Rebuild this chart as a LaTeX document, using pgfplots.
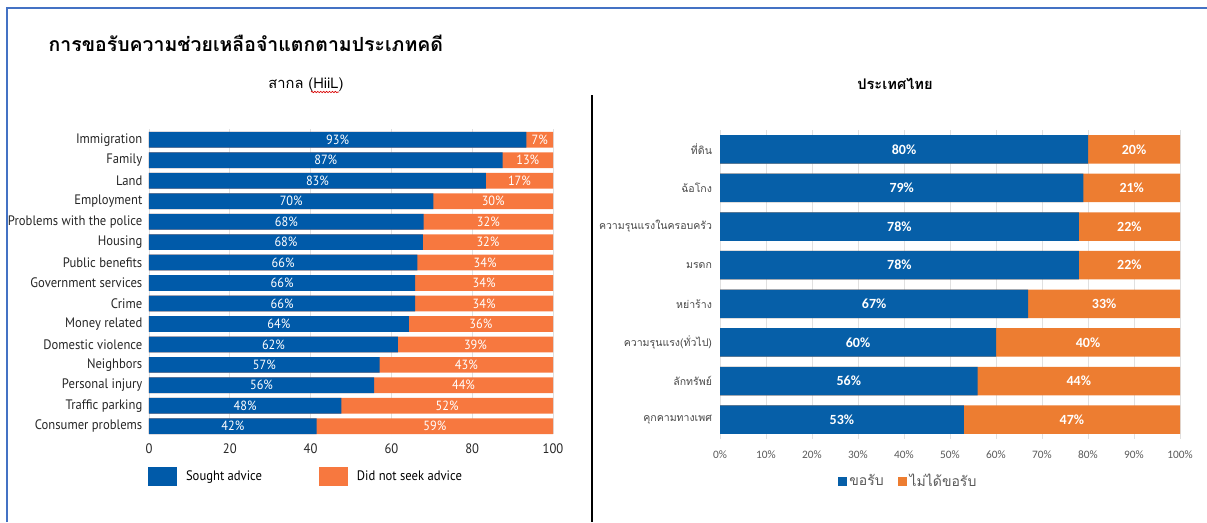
\documentclass[border=0pt]{standalone}
\usepackage{fontspec}
\usepackage{pgfplots}
\usepackage{pgfplotstable}
\pgfplotsset{compat=1.18}
\usetikzlibrary{decorations.pathmorphing}
\setmainfont{PT Sans}
\newfontfamily\thaifont[Script=Thai]{Loma}
\newfontfamily\lfont[FakeStretch=0.92]{PT Sans}
\newfontfamily\cfont{Carlito}
\definecolor{lblue}{HTML}{005AA9}
\definecolor{lorange}{HTML}{F7783F}
\definecolor{rblue}{HTML}{065FA8}
\definecolor{rorange}{HTML}{ED7D31}
\definecolor{framec}{HTML}{4472C4}
\definecolor{tgray}{HTML}{595959}

\pgfplotstableread{
y b bl ol
0 93.4 93 7
1 87.5 87 13
2 83.4 83 17
3 70.4 70 30
4 68.0 68 32
5 67.8 68 32
6 66.4 66 34
7 65.9 66 34
8 65.9 66 34
9 64.3 64 36
10 61.6 62 39
11 57.1 57 43
12 55.7 56 44
13 47.6 48 52
14 41.5 42 59
}\lefttab

\pgfplotstableread{
y b o
0 80 20
1 79 21
2 78 22
3 78 22
4 67 33
5 60 40
6 56 44
7 53 47
}\righttab

\begin{document}
\begin{tikzpicture}
\path[use as bounding box] (0,0) rectangle (905.25pt,-391.5pt);

\begin{scope}[x=0.75pt,y=-0.75pt]
\draw[framec, line width=1.5pt] (7,522) -- (7,8) -- (1207,8);
\draw[black, line width=2.2pt] (592,95) -- (592,522);
\node[anchor=west, font=\thaifont\bfseries\fontsize{14.6}{17}\selectfont] at (44,43) {การขอรับความช่วยเหลือจำแตกตามประเภทคดี};
\node[font=\thaifont\fontsize{11}{13}\selectfont] at (306,85) {สากล (HiiL)};
\draw[red!85!black, line width=0.5pt, decorate, decoration={snake, amplitude=0.5pt, segment length=2.2pt}] (311,92) -- (339,92);
\node[font=\thaifont\bfseries\fontsize{11}{13}\selectfont] at (895,84) {ประเทศไทย};
\end{scope}

% ---------------- left chart ----------------
\begin{axis}[
  at={(111.75pt,-96.75pt)}, anchor=north west,
  scale only axis, width=303pt, height=228.75pt,
  xmin=0, xmax=100, ymin=-0.53, ymax=14.38, y dir=reverse,
  axis line style={draw=none}, tick style={draw=none},
  xmajorgrids, grid style={black!12, line width=0.6pt},
  xtick={0,20,40,60,80,100},
  ytick={0,...,14},
  yticklabels={Immigration,Family,Land,Employment,Problems with the police,Housing,Public benefits,Government services,Crime,Money related,Domestic violence,Neighbors,Personal injury,Traffic parking,Consumer problems},
  yticklabel style={font=\lfont\fontsize{10.3}{12}\selectfont, text=black!85, xshift=-1.5pt},
  xticklabel style={font=\lfont\fontsize{10.3}{12}\selectfont, text=black!85, yshift=-4pt},
  /pgf/number format/assume math mode=true,
  legend image code/.code={\fill[#1] (0pt,-6.75pt) rectangle (21pt,6.75pt); \path[draw=none, fill=none] (0pt,0pt) rectangle (26pt,0.1pt);},
  legend style={at={(-0.012,-0.1)}, anchor=north west, draw=none, fill=none,
    legend columns=2, font=\lfont\fontsize{10.3}{12}\selectfont,
    /tikz/every even column/.append style={column sep=41pt}},
  legend cell align=left,
]
\addlegendimage{lblue}\addlegendentry{Sought advice}
\addlegendimage{lorange}\addlegendentry{Did not seek advice}
\addplot[xbar, bar width=11.8pt, fill=lorange, draw=none, forget plot] table[x expr=100, y=y] \lefttab;
\addplot[xbar, bar width=11.8pt, fill=lblue, draw=none, forget plot] table[x=b, y=y] \lefttab;
\addplot[draw=none, mark=none, forget plot, nodes near coords={\pgfplotspointmeta\%}, point meta=explicit symbolic,
  every node near coord/.style={anchor=center, text=white, font=\lfont\fontsize{10}{11}\selectfont}]
  table[x expr=\thisrow{b}/2, y=y, meta=bl] \lefttab;
\addplot[draw=none, mark=none, forget plot, nodes near coords={\pgfplotspointmeta\%}, point meta=explicit symbolic,
  every node near coord/.style={anchor=center, text=white, font=\lfont\fontsize{10}{11}\selectfont}]
  table[x expr=(\thisrow{b}+100)/2, y=y, meta=ol] \lefttab;
\end{axis}

% ---------------- right chart ----------------
\begin{axis}[
  at={(540pt,-97.5pt)}, anchor=north west,
  scale only axis, width=345pt, height=231.75pt,
  xmin=0, xmax=100, ymin=-0.5, ymax=7.5, y dir=reverse,
  axis line style={draw=none}, tick style={draw=none},
  xmajorgrids, grid style={black!12, line width=0.6pt},
  xtick={0,10,...,100},
  xticklabel={\pgfmathprintnumber{\tick}\%},
  /pgf/number format/assume math mode=true,
  ytick={0,...,7},
  yticklabels={ที่ดิน,ฉ้อโกง,ความรุนแรงในครอบครัว,มรดก,หย่าร้าง,ความรุนแรง(ทั่วไป),ลักทรัพย์,คุกคามทางเพศ},
  yticklabel style={font=\thaifont\fontsize{7.9}{10}\selectfont, text=black!72, xshift=-2.5pt},
  xticklabel style={font=\cfont\fontsize{8.5}{10}\selectfont, text=tgray, yshift=-5pt},
  legend image code/.code={\fill[#1] (0pt,-3pt) rectangle (6pt,3pt);},
  legend style={at={(0.41,-0.136)}, anchor=center, draw=none, fill=none,
    legend columns=2, font=\thaifont\fontsize{10.5}{12}\selectfont, text=tgray,
    /tikz/every even column/.append style={column sep=9pt}},
  legend cell align=left,
]
\addlegendimage{rblue}\addlegendentry{ขอรับ}
\addlegendimage{rorange}\addlegendentry{ไม่ได้ขอรับ}
\addplot[xbar, bar width=21.4pt, fill=rorange, draw=none, forget plot] table[x expr=\thisrow{b}+\thisrow{o}, y=y] \righttab;
\addplot[xbar, bar width=21.4pt, fill=rblue, draw=none, forget plot] table[x=b, y=y] \righttab;
\addplot[draw=none, mark=none, forget plot, nodes near coords={\pgfmathprintnumber{\pgfplotspointmeta}\%}, point meta=\thisrow{b},
  every node near coord/.style={anchor=center, text=white, font=\cfont\bfseries\fontsize{10.5}{12}\selectfont}]
  table[x expr=\thisrow{b}/2, y=y] \righttab;
\addplot[draw=none, mark=none, forget plot, nodes near coords={\pgfmathprintnumber{\pgfplotspointmeta}\%}, point meta=\thisrow{o},
  every node near coord/.style={anchor=center, text=white, font=\cfont\bfseries\fontsize{10.5}{12}\selectfont}]
  table[x expr=\thisrow{b}+\thisrow{o}/2, y=y] \righttab;
\end{axis}
\end{tikzpicture}
\end{document}
